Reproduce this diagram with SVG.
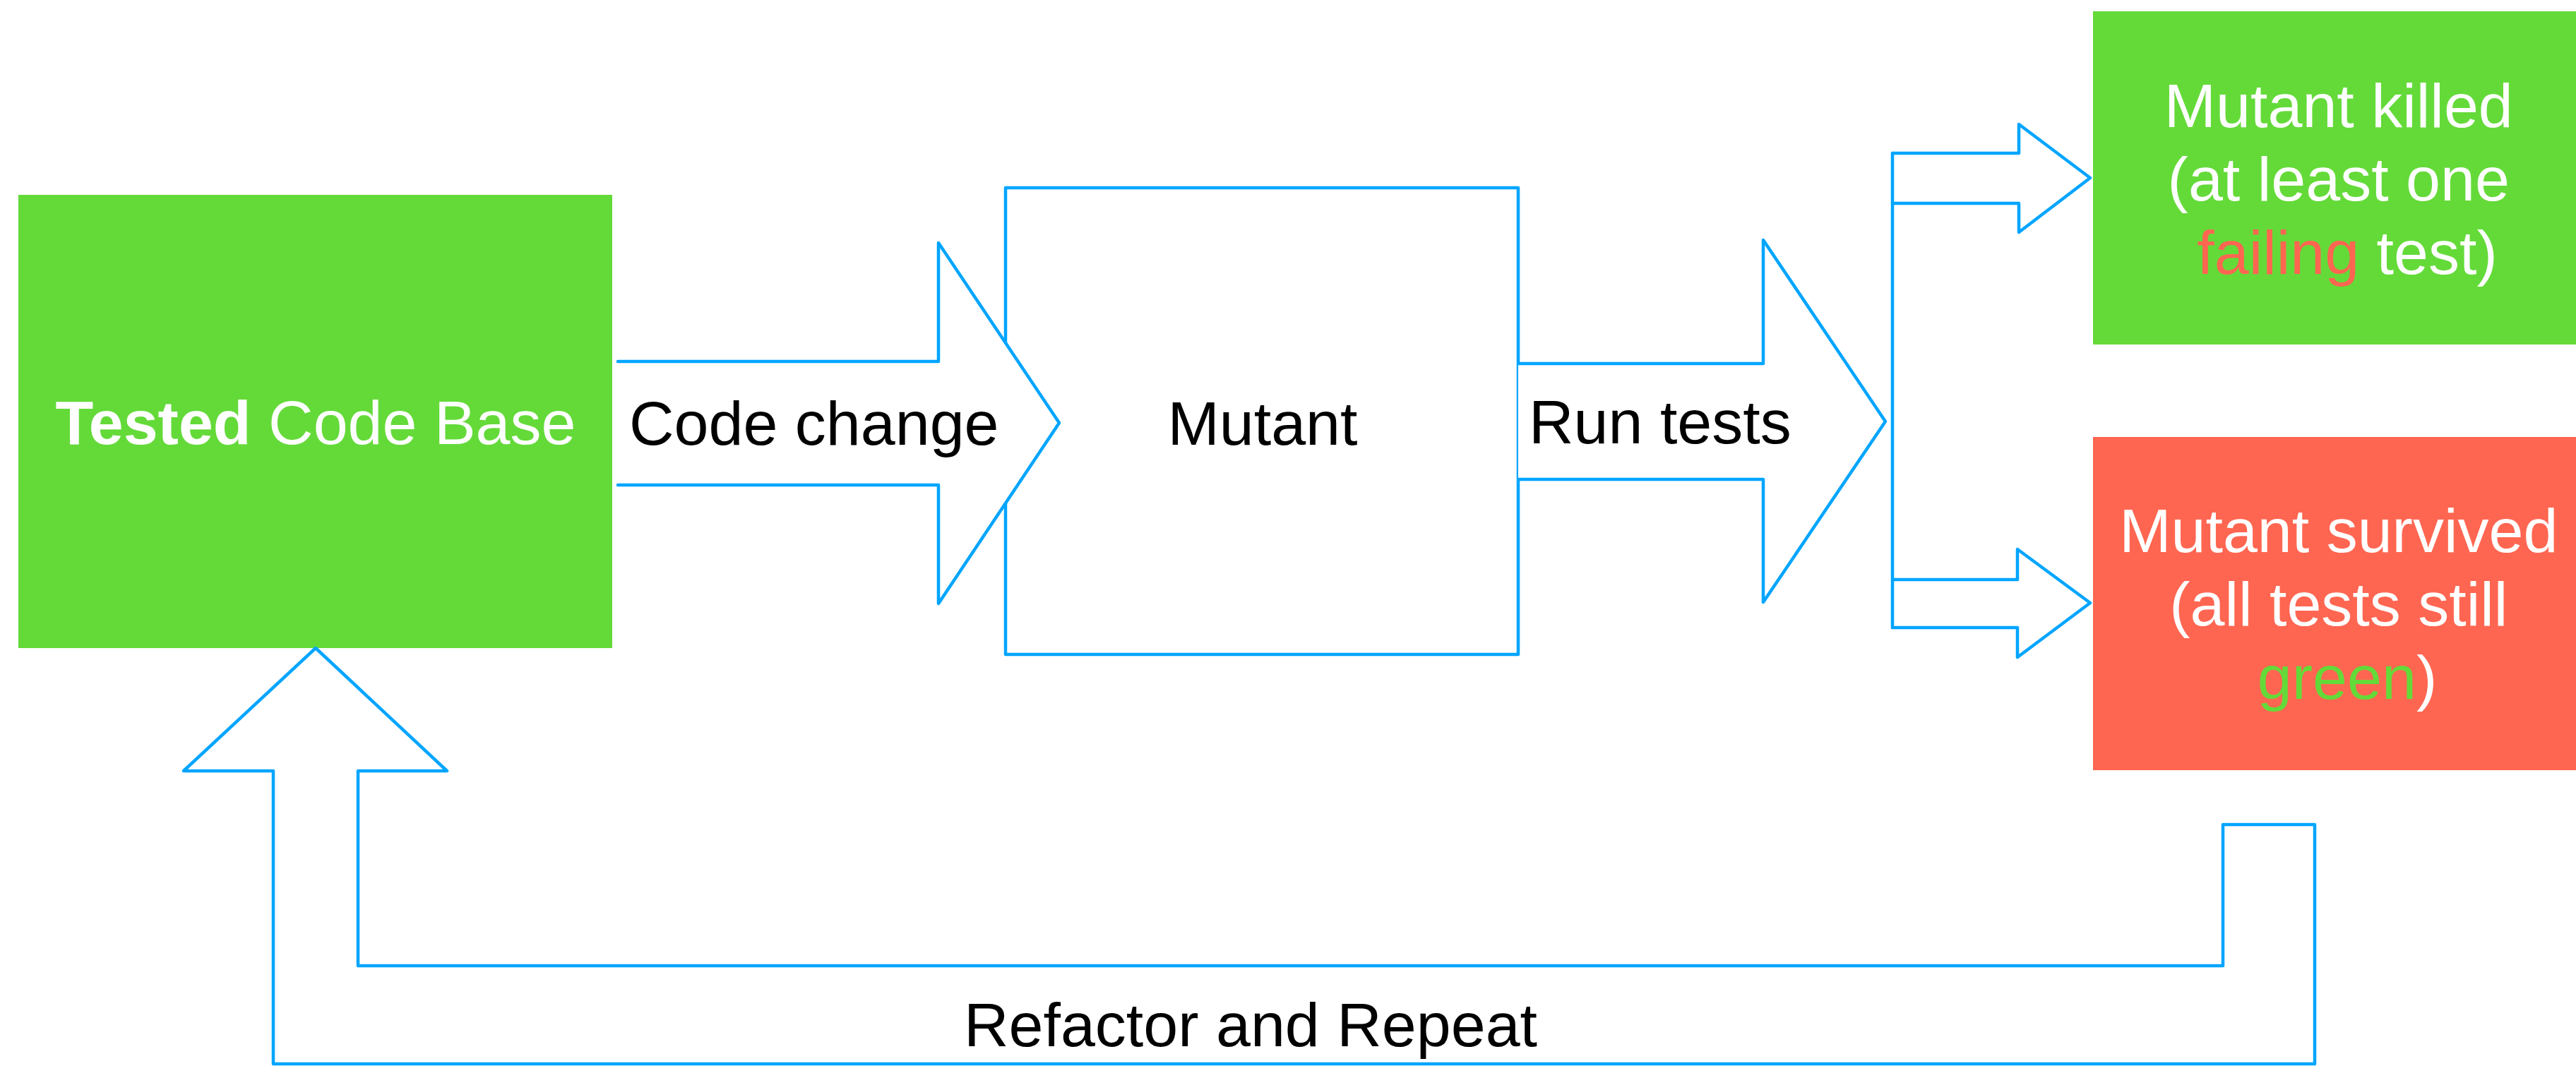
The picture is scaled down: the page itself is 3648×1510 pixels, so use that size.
<svg xmlns="http://www.w3.org/2000/svg" width="3648" height="1510" viewBox="0 0 3648 1510">
<style>
.t{font-family:"Liberation Sans",Arial,Helvetica,sans-serif;font-size:88px}
.w{fill:#ffffff}
.k{fill:#000000}
.ln{fill:none;stroke:#00A5FF;stroke-width:4.5;stroke-linejoin:round;stroke-linecap:round}
.wf{fill:#ffffff;stroke:none}
.box{fill:#ffffff;stroke:#00A5FF;stroke-width:4.5;stroke-linejoin:round}
</style>
<rect width="3648" height="1510" fill="#ffffff"/>

<g id="node-tested">
<rect x="26" y="276" width="841" height="642" fill="#64DA39"/>
<text class="t w" x="447" y="629" text-anchor="middle"><tspan font-weight="bold">Tested</tspan> Code Base</text>
</g>

<g id="node-mutant">
<rect class="box" x="1424" y="266" width="726" height="661"/>
<text class="t k" x="1788" y="630" text-anchor="middle">Mutant</text>
</g>

<g id="node-killed">
<rect x="2964" y="16" width="720" height="472" fill="#64DA39"/>
<text class="t w" text-anchor="middle">
<tspan x="3324" y="180">Mutant killed</tspan>
<tspan x="3324" y="284">(at least one</tspan>
<tspan x="3324" y="388"><tspan fill="#FF6651">failing</tspan> test)</tspan>
</text>
</g>

<g id="node-survived">
<rect x="2964" y="619" width="720" height="472" fill="#FF6651"/>
<text class="t w" text-anchor="middle">
<tspan x="3324" y="782">Mutant survived</tspan>
<tspan x="3324" y="886">(all tests still</tspan>
<tspan x="3324" y="990"><tspan fill="#64DA39">green</tspan>)</tspan>
</text>
</g>

<g id="connectors">
<!-- Code change arrow -->
<path class="wf" d="M875,512 L1329,512 L1329,344 L1500,599 L1329,855 L1329,687 L875,687 Z"/>
<polyline class="ln" points="875,512 1329,512 1329,344 1500,599 1329,855 1329,687 875,687"/>
<text class="t k" x="891" y="630">Code change</text>

<!-- Run tests arrow -->
<path class="box" d="M2150,515 L2497,515 L2497,340 L2670,597 L2497,853 L2497,679 L2150,679"/>
<text class="t k" x="2165" y="628">Run tests</text>

<!-- branch to killed -->
<polyline class="ln" points="2680,217 2859,217 2859,176 2960,252 2859,329 2859,288 2680,288"/>
<line class="ln" x1="2680" y1="217" x2="2680" y2="889"/>
<!-- branch to survived -->
<polyline class="ln" points="2680,821 2857,821 2857,778 2960,854 2857,931 2857,889 2680,889"/>

<!-- Refactor and Repeat return arrow -->
<path class="box" d="M447,918 L633,1092 L507,1092 L507,1368 L3148,1368 L3148,1168 L3278,1168 L3278,1507 L387,1507 L387,1092 L260,1092 Z"/>
<text class="t k" x="1771" y="1482" text-anchor="middle">Refactor and Repeat</text>
</g>
</svg>
